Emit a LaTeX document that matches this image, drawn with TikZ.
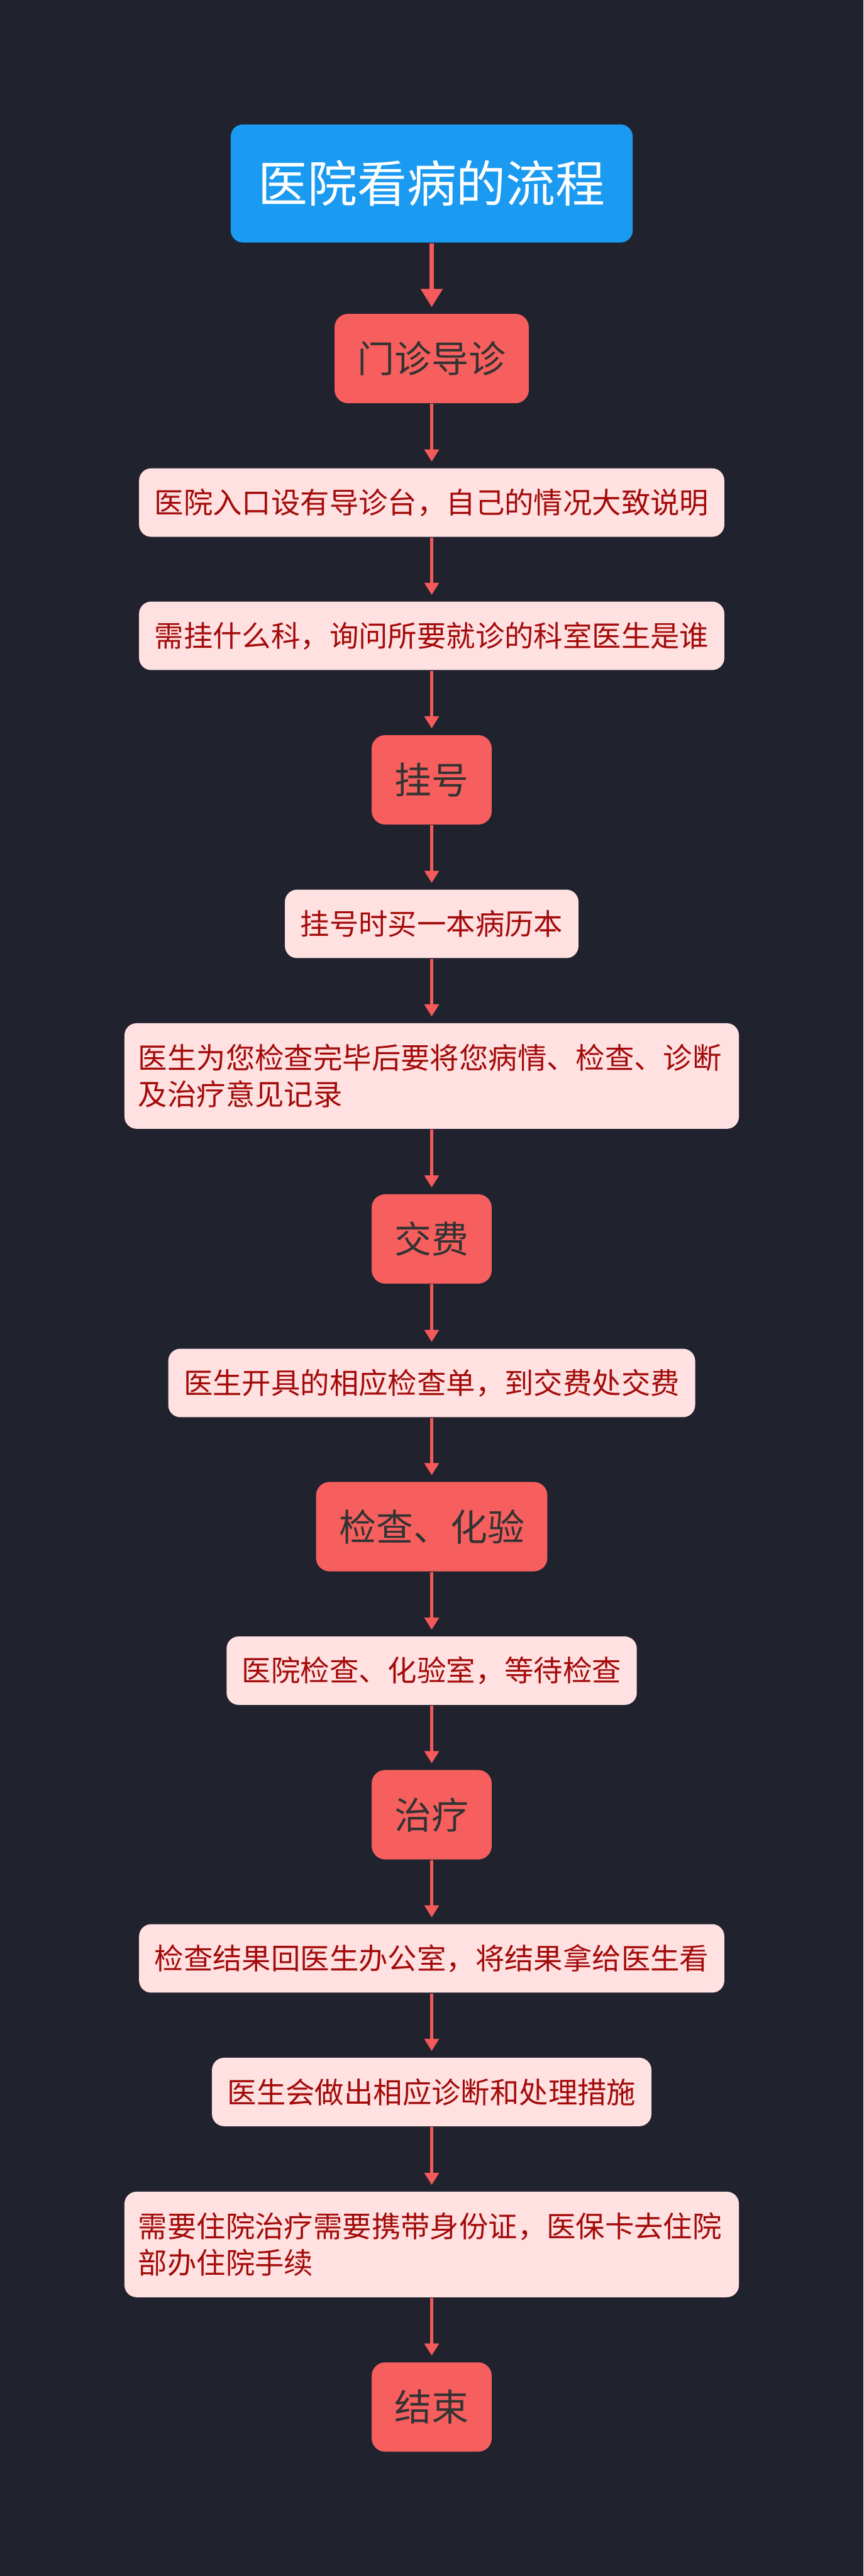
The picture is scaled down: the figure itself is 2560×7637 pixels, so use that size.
\documentclass[tikz,border=0pt]{standalone}
\usepackage{fontspec}
\setmainfont{Noto Sans CJK SC}
\usetikzlibrary{arrows.meta}
\definecolor{bgdark}{HTML}{20222E}
\definecolor{topblue}{HTML}{1A9AF0}
\definecolor{stagered}{HTML}{F65F5E}
\definecolor{notepink}{HTML}{FFE1E1}
\definecolor{notetext}{HTML}{A30A0A}
\definecolor{stagetext}{HTML}{333333}
\definecolor{linkred}{HTML}{F45A5A}
\tikzset{
  titlebox/.style={fill=topblue, text=white, rounded corners=3.6pt, minimum width=119.2pt,
    minimum height=35pt, inner sep=0pt, font=\fontsize{14.7pt}{17pt}\selectfont},
  stagebox/.style={fill=stagered, text=stagetext, rounded corners=4pt, minimum height=26.5pt,
    inner xsep=6.8pt, inner ysep=0pt, font=\fontsize{11pt}{13pt}\selectfont},
  notebox/.style={fill=notepink, text=notetext, rounded corners=3.6pt, minimum height=20.3pt,
    inner xsep=4.6pt, inner ysep=0pt, font=\fontsize{8.65pt}{10.9pt}\selectfont},
  longnote/.style={notebox, text width=174pt, inner xsep=4.1pt, align=left, minimum height=31.3pt},
  link/.style={draw=linkred, line width=0.9pt, -{Triangle[width=4.2pt,length=3.6pt]}, shorten >=1.8pt},
  toplink/.style={link, line width=1.2pt, -{Triangle[width=6.3pt,length=5.4pt]}}
}
\begin{document}
\begin{tikzpicture}[x=0.1pt,y=-0.1pt]
  % background
  \fill[bgdark] (0,0) rectangle (2560,7637);
  % title
  \node[titlebox] (title) at (1280,544) {医院看病的流程};
  % stages and notes
  \node[stagebox] (menzhen) at (1280,1063) {门诊导诊};
  \node[notebox] (note1) at (1280,1490) {医院入口设有导诊台，自己的情况大致说明};
  \node[notebox] (note2) at (1280,1885) {需挂什么科，询问所要就诊的科室医生是谁};
  \node[stagebox] (guahao) at (1280,2312) {挂号};
  \node[notebox] (note3) at (1280,2739) {挂号时买一本病历本};
  \node[longnote] (note4) at (1280,3190) {医生为您检查完毕后要将您病情、检查、诊断\\及治疗意见记录};
  \node[stagebox] (jiaofei) at (1280,3673) {交费};
  \node[notebox] (note5) at (1280,4100) {医生开具的相应检查单，到交费处交费};
  \node[stagebox] (jiancha) at (1280,4526) {检查、化验};
  \node[notebox] (note6) at (1280,4953) {医院检查、化验室，等待检查};
  \node[stagebox] (zhiliao) at (1280,5380) {治疗};
  \node[notebox] (note7) at (1280,5806) {检查结果回医生办公室，将结果拿给医生看};
  \node[notebox] (note8) at (1280,6202) {医生会做出相应诊断和处理措施};
  \node[longnote] (note9) at (1280,6654) {需要住院治疗需要携带身份证，医保卡去住院\\部办住院手续};
  \node[stagebox] (jieshu) at (1280,7136) {结束};
  % links
  \draw[toplink] (title.south) -- (menzhen.north);
  \foreach \a/\b in {menzhen/note1, note1/note2, note2/guahao, guahao/note3, note3/note4,
      note4/jiaofei, jiaofei/note5, note5/jiancha, jiancha/note6, note6/zhiliao,
      zhiliao/note7, note7/note8, note8/note9, note9/jieshu}
    \draw[link] (\a.south) -- (\b.north);
\end{tikzpicture}
\end{document}
